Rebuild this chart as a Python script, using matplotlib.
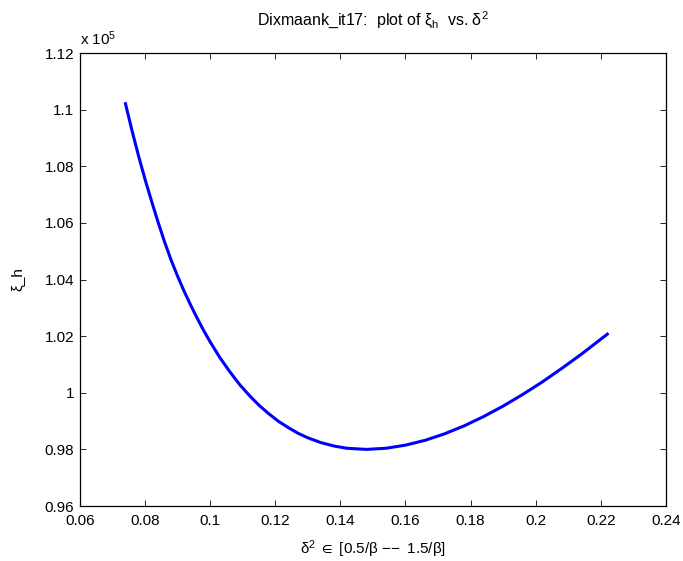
import matplotlib
matplotlib.use("Agg")
import matplotlib.pyplot as plt
from matplotlib.ticker import FormatStrFormatter

# courbe (xi_h en unites de 1e5)
delta2 = [0.074, 0.076, 0.078, 0.080, 0.082, 0.084, 0.086, 0.088, 0.090,
          0.092, 0.094, 0.096, 0.098, 0.100, 0.103, 0.106, 0.109, 0.112,
          0.115, 0.118, 0.121, 0.124, 0.127, 0.130, 0.134, 0.138, 0.142,
          0.148, 0.154, 0.160, 0.166, 0.172, 0.178, 0.184, 0.190, 0.196,
          0.202, 0.208, 0.214, 0.222]
xi_h = [1.1021, 1.0926, 1.0837, 1.0754, 1.0677, 1.0603, 1.0533, 1.0469,
        1.0412, 1.0359, 1.0310, 1.0264, 1.0220, 1.0180, 1.0124, 1.0075,
        1.0030, 0.9991, 0.9956, 0.9926, 0.9899, 0.9877, 0.9857, 0.9841,
        0.9824, 0.9812, 0.9804, 0.9800, 0.9804, 0.9815, 0.9832, 0.9855,
        0.9883, 0.9916, 0.9953, 0.9994, 1.0038, 1.0086, 1.0136, 1.0207]

x_ticks = [0.06, 0.08, 0.1, 0.12, 0.14, 0.16, 0.18, 0.2, 0.22, 0.24]
y_ticks = [0.96, 0.98, 1.0, 1.02, 1.04, 1.06, 1.08, 1.1, 1.12]

plt.rcParams['font.family'] = ['Liberation Sans', 'DejaVu Sans']
plt.rcParams['mathtext.fontset'] = 'custom'
plt.rcParams['mathtext.rm'] = 'Liberation Sans'
plt.rcParams['mathtext.it'] = 'Liberation Sans:italic'
plt.rcParams['mathtext.fallback'] = 'stixsans'

fig = plt.figure(figsize=(6.83, 5.61), dpi=100)
ax = fig.add_axes([0.117, 0.098, 0.858, 0.8075])

ax.plot(delta2, xi_h, color='#0000ff', linewidth=2.2,
        solid_joinstyle='round')

ax.set_xlim(0.06, 0.24)
ax.set_ylim(0.96, 1.12)
ax.set_xticks(x_ticks)
ax.set_yticks(y_ticks)
ax.xaxis.set_major_formatter(FormatStrFormatter('%g'))
ax.yaxis.set_major_formatter(FormatStrFormatter('%g'))
ax.tick_params(direction='in', length=4.5, width=0.6, top=True, right=True,
               labelsize=11)
ax.tick_params(axis='x', pad=6)
ax.tick_params(axis='y', pad=4)
for s in ax.spines.values():
    s.set_linewidth(0.9)

ax.text(0.0, 1.012, r'x 10$^{5}$', transform=ax.transAxes, fontsize=11,
        ha='left', va='bottom')
ax.set_title(r'Dixmaank_it17:  plot of ξ$_\mathrm{h}$  vs. δ$^\mathrm{2}$',
             fontsize=11.5, pad=20)
ax.set_xlabel(r'δ$^\mathrm{2}$ $\in$ [0.5/β $-\!-$ 1.5/β]', fontsize=11,
              labelpad=7)
ax.set_ylabel('ξ_h', fontsize=11)
ax.yaxis.set_label_coords(-0.095, 0.5)

fig.savefig('out.png', dpi=100)
